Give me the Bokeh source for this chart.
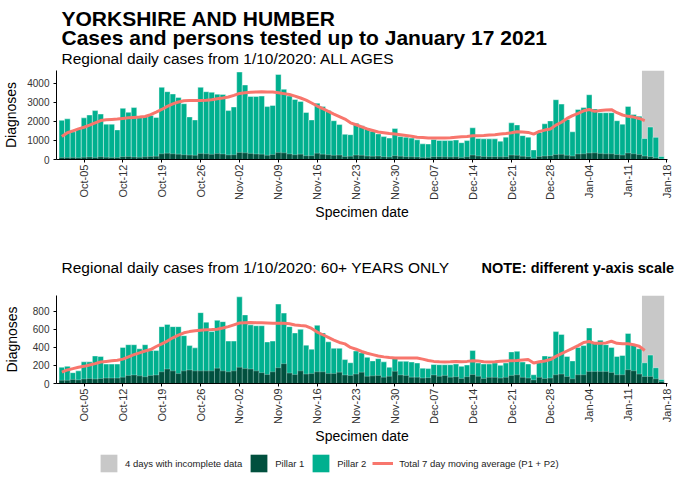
import math
import pandas as pd
from bokeh.plotting import figure
from bokeh.models import (Range1d, FixedTicker, DatetimeTickFormatter, Label,
                          Legend, LegendItem)
from bokeh.layouts import column
from bokeh.embed import file_html
from bokeh.resources import INLINE

# ---------------- data ----------------
start_date = "2020-10-01"
end_date = "2021-01-17"
dates = pd.date_range(start_date, end_date, freq="D")

all_total = [2050, 2130, 1450, 1600, 2180, 2330, 2560, 2380, 1850, 1850,
             1550, 2680, 2470, 2720, 2250, 2250, 2300, 2200, 3780, 3550,
             3430, 3250, 2920, 2230, 2070, 3780, 3550, 3520, 3420, 3400,
             2560, 2750, 4580, 3900, 3300, 3300, 3320, 2770, 2830, 4450,
             3680, 3320, 3140, 3040, 2460, 2070, 2950, 2780, 2560, 2030,
             1830, 1320, 1300, 1900, 1770, 1650, 1480, 1340, 1200, 1120,
             1620, 1200, 1170, 1120, 1030, 820, 810, 1050, 1000, 990,
             990, 1020, 880, 990, 1660, 1100, 1080, 1080, 1080, 960,
             1170, 1920, 1810, 1250, 1170, 500, 1420, 1870, 2020, 3130,
             2900, 2100, 1450, 2620, 2720, 3390, 2650, 2450, 2450, 2450,
             2030, 1850, 2780, 2360, 2270, 1100, 1700, 1160, 160]

all_pillar1 = [100, 100, 110, 90, 120, 130, 110, 140, 120, 110,
               100, 150, 160, 130, 120, 140, 160, 170, 300, 330,
               300, 280, 250, 230, 220, 320, 300, 270, 310, 290,
               240, 250, 370, 350, 320, 290, 280, 220, 260, 360,
               350, 290, 250, 280, 200, 200, 330, 280, 250, 220,
               230, 160, 170, 230, 220, 180, 170, 180, 150, 130,
               200, 170, 150, 140, 130, 110, 110, 150, 150, 140,
               130, 140, 110, 140, 230, 180, 160, 150, 150, 140,
               150, 230, 220, 170, 150, 70, 160, 180, 200, 260,
               270, 220, 180, 290, 300, 340, 350, 320, 300, 300,
               260, 230, 340, 300, 260, 180, 150, 90, 30]

all_avg7 = [1200, 1400, 1500, 1600, 1690, 1800, 1920, 2040, 2080, 2100,
            2120, 2150, 2180, 2200, 2220, 2250, 2350, 2480, 2620, 2780,
            2910, 3010, 3080, 3090, 3090, 3090, 3100, 3130, 3180, 3220,
            3270, 3360, 3460, 3500, 3520, 3540, 3550, 3540, 3530, 3500,
            3450, 3400, 3320, 3220, 3110, 2960, 2800, 2660, 2520, 2380,
            2250, 2120, 1920, 1820, 1710, 1600, 1520, 1440, 1400, 1360,
            1330, 1300, 1260, 1220, 1170, 1150, 1130, 1120, 1120, 1120,
            1140, 1170, 1190, 1210, 1245, 1250, 1260, 1280, 1300, 1330,
            1360, 1400, 1450, 1440, 1420, 1330, 1470, 1540, 1600, 1800,
            1950, 2150, 2300, 2420, 2550, 2620, 2520, 2560, 2590, 2610,
            2450, 2330, 2260, 2220, 2150, 2040]

old_total = [180, 190, 120, 140, 240, 240, 305, 300, 215, 215,
             215, 400, 430, 430, 385, 430, 365, 365, 630, 655,
             630, 630, 530, 420, 395, 785, 680, 575, 700, 685,
             470, 470, 960, 760, 650, 640, 640, 460, 470, 880,
             780, 630, 560, 600, 425, 380, 645, 560, 462, 390,
             390, 265, 230, 360, 340, 290, 250, 275, 240, 180,
             290, 246, 246, 238, 227, 170, 165, 210, 208, 208,
             208, 216, 190, 205, 365, 227, 216, 216, 227, 201,
             227, 350, 357, 238, 216, 97, 230, 305, 300, 575,
             544, 300, 250, 400, 420, 615, 450, 480, 430, 400,
             300, 310, 555, 430, 385, 230, 315, 175, 45]

old_pillar1 = [35, 35, 45, 40, 50, 55, 50, 55, 60, 60,
               60, 70, 90, 95, 85, 75, 90, 95, 130, 160,
               140, 110, 140, 150, 140, 140, 140, 140, 170, 140,
               130, 140, 180, 165, 160, 140, 120, 100, 130, 175,
               220, 115, 100, 140, 105, 110, 130, 130, 110, 110,
               125, 95, 90, 105, 125, 80, 85, 90, 70, 80,
               135, 95, 90, 70, 70, 60, 65, 95, 80, 90,
               70, 75, 55, 75, 100, 80, 55, 68, 68, 60,
               68, 90, 97, 68, 60, 40, 68, 55, 60, 97,
               104, 78, 52, 97, 97, 134, 134, 134, 134, 123,
               97, 97, 153, 141, 104, 78, 78, 52, 22]

old_avg7 = [125, 150, 165, 180, 190, 205, 220, 238, 245, 252,
            257, 270, 295, 320, 340, 360, 376, 410, 440, 470,
            506, 535, 562, 575, 585, 590, 595, 598, 602, 615,
            630, 650, 670, 674, 676, 674, 672, 670, 668, 667,
            667, 662, 648, 642, 637, 610, 570, 540, 510, 480,
            455, 439, 400, 380, 355, 335, 320, 305, 295, 288,
            283, 283, 283, 283, 283, 270, 255, 245, 240, 238,
            240, 245, 240, 245, 253, 248, 242, 238, 240, 246,
            250, 253, 255, 260, 265, 227, 240, 250, 265, 300,
            330, 360, 390, 420, 455, 465, 445, 445, 450, 468,
            445, 440, 440, 430, 413, 365]

incomplete_dates = ["2021-01-14", "2021-01-15", "2021-01-16", "2021-01-17"]

tick_dates = ["2020-10-05", "2020-10-12", "2020-10-19", "2020-10-26",
              "2020-11-02", "2020-11-09", "2020-11-16", "2020-11-23",
              "2020-11-30", "2020-12-07", "2020-12-14", "2020-12-21",
              "2020-12-28", "2021-01-04", "2021-01-11", "2021-01-18"]

all_yticks = [0, 1000, 2000, 3000, 4000]
old_yticks = [0, 200, 400, 600, 800]

title1 = "YORKSHIRE AND HUMBER"
title2 = "Cases and persons tested up to January 17 2021"
sub_all = "Regional daily cases from 1/10/2020: ALL AGES"
sub_old = "Regional daily cases from 1/10/2020: 60+ YEARS ONLY"
note_old = "NOTE: different y-axis scale"
legend_labels = ["4 days with incomplete data", "Pillar 1", "Pillar 2",
                 "Total 7 day moving average (P1 + P2)"]

# ---------------- style ----------------
FONT = "Liberation Sans"
TEAL = "#00B08F"
DARK = "#01503E"
GREY = "#C8C8C8"
RED = "#F8766D"
DAY = 24 * 3600 * 1000
W = 678

t0 = pd.Timestamp(start_date)
x_start = t0 - pd.Timedelta(days=0.96)
x_end = t0 + pd.Timedelta(days=109.1)
tick_ms = [pd.Timestamp(t).value // 10**6 for t in tick_dates]
inc_left = pd.Timestamp(incomplete_dates[0]) - pd.Timedelta(hours=12)
inc_right = pd.Timestamp(incomplete_dates[-1]) + pd.Timedelta(hours=12)


def blank(height):
    p = figure(width=W, height=height, min_border=0, frame_align=False,
               sizing_mode="fixed",
               x_range=Range1d(0, W), y_range=Range1d(0, height),
               x_axis_location=None, y_axis_location=None,
               toolbar_location=None, output_backend="svg")
    p.outline_line_color = None
    p.grid.visible = False
    return p


def add_text(p, x, y, text, size, bold=False):
    p.add_layout(Label(x=x, y=y, text=text, text_font=FONT, text_font_size=size,
                       text_font_style="bold" if bold else "normal",
                       text_color="black", text_baseline="alphabetic"))


def make_panel(total, pillar1, avg7, y_end, yticks, frame_h, bottom, ylab_standoff):
    p = figure(width=W, height=frame_h + bottom, x_axis_type="datetime",
               sizing_mode="fixed", frame_align=False,
               x_range=Range1d(x_start, x_end), y_range=Range1d(0, y_end),
               toolbar_location=None, output_backend="svg",
               min_border_left=52, min_border_right=11,
               min_border_top=0, min_border_bottom=bottom)
    p.outline_line_color = None
    p.grid.visible = False

    p.quad(left=[inc_left], right=[inc_right], bottom=[0], top=[y_end],
           fill_color=GREY, line_color=None)
    p.vbar(x=dates, top=total, width=DAY, fill_color=TEAL,
           line_color="white", line_width=0.5, line_alpha=0.8)
    p.vbar(x=dates, top=pillar1, width=DAY, fill_color=DARK,
           line_color="white", line_width=0.5, line_alpha=0.5)
    p.line(x=dates[:len(avg7)], y=avg7, line_color=RED, line_width=3)

    xa = p.xaxis[0]
    xa.ticker = FixedTicker(ticks=tick_ms, minor_ticks=[])
    fmt = "%b-%d"
    xa.formatter = DatetimeTickFormatter(days=fmt, months=fmt, years=fmt,
                                         hours=fmt, hourmin=fmt)
    xa.major_label_orientation = math.pi / 2
    xa.axis_label = "Specimen date"
    ya = p.yaxis[0]
    ya.ticker = FixedTicker(ticks=yticks, minor_ticks=[])
    ya.axis_label = "Diagnoses"
    ya.axis_label_standoff = ylab_standoff
    xa.axis_label_standoff = 1
    for ax in (xa, ya):
        ax.axis_line_color = "black"
        ax.axis_line_width = 1
        ax.major_tick_line_color = "black"
        ax.major_tick_out = 3
        ax.major_tick_in = 0
        ax.minor_tick_line_color = None
        ax.major_label_text_font = FONT
        ax.major_label_text_color = "#333333"
        ax.axis_label_text_font = FONT
        ax.axis_label_text_font_size = "14px"
        ax.axis_label_text_font_style = "normal"
        ax.axis_label_text_color = "black"
    xa.major_label_text_font_size = "11px"
    xa.major_label_standoff = 2
    ya.major_label_text_font_size = "10px"
    ya.major_label_standoff = 4
    return p


# header with the main titles and the first subtitle
head1 = blank(70)
add_text(head1, 61, 52, title1, "21px", bold=True)
add_text(head1, 61, 33, title2, "21px", bold=True)
add_text(head1, 61, 12.5, sub_all, "15.5px")

# panel 1: all ages
p1 = make_panel(all_total, all_pillar1, all_avg7, 4660, all_yticks, 89, 91, 5)

# header of panel 2
head2 = blank(45)
add_text(head2, 61, 28, sub_old, "15.5px")
add_text(head2, 481, 28, note_old, "14.5px", bold=True)

# panel 2: 60+ years
p2 = make_panel(old_total, old_pillar1, old_avg7, 975, old_yticks, 88, 68, 10)

# footer with the legend (key glyphs use zero-size quads, nothing is drawn)
foot = blank(24)
r_grey = foot.quad(left=[0], right=[0], bottom=[0], top=[0],
                   fill_color=GREY, line_color=None)
r_p1 = foot.quad(left=[0], right=[0], bottom=[0], top=[0],
                 fill_color=DARK, line_color=None)
r_p2 = foot.quad(left=[0], right=[0], bottom=[0], top=[0],
                 fill_color=TEAL, line_color=None)
r_ln = foot.line(x=[0, 0], y=[0, 0], line_color=RED, line_width=3, line_alpha=1)
legend = Legend(items=[LegendItem(label=lab, renderers=[r])
                       for lab, r in zip(legend_labels, [r_grey, r_p1, r_p2, r_ln])],
                orientation="horizontal", location=(98, 1),
                glyph_width=21, glyph_height=22, label_standoff=6, spacing=6,
                padding=0, margin=0, border_line_color=None,
                background_fill_alpha=0, label_text_font=FONT,
                label_text_font_size="9.5px", label_text_color="#222222")
foot.add_layout(legend)

layout = column(head1, p1, head2, p2, foot, spacing=0)
open("out.html", "w").write(file_html(layout, INLINE))
